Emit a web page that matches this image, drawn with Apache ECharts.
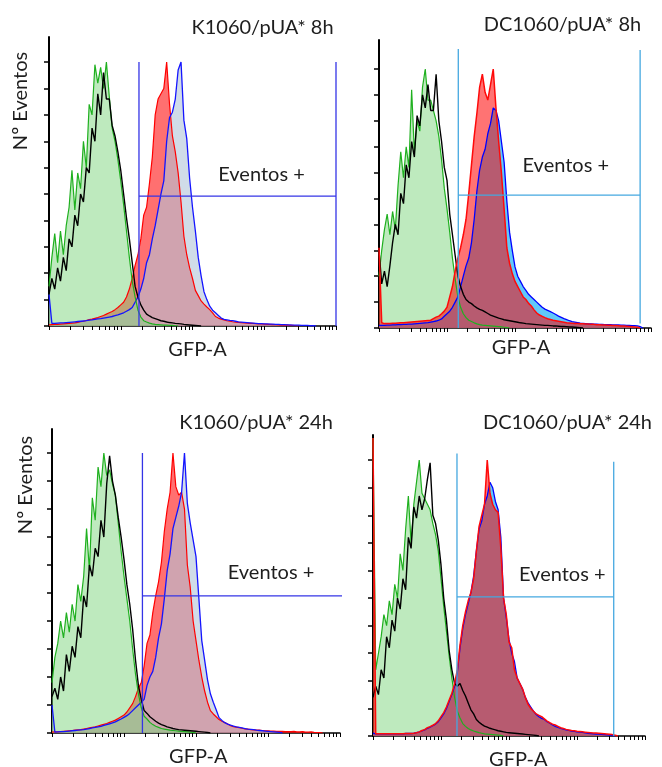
<!DOCTYPE html>
<html>
<head>
<meta charset="utf-8">
<script src="https://cdn.jsdelivr.net/npm/echarts@6/dist/echarts.min.js"></script>
<style>
  html, body { margin: 0; padding: 0; background: #fff; }
  #chart { width: 662px; height: 767px; }
</style>
</head>
<body>
<div id="chart"></div>
<script>
// GFP-A histograms: channels are spaced 0.04 decades apart on a 4-decade log axis (value = log10 position).
const BIN_STEP = 0.04;
const DECADES = 4;

// Tick marks: 1..9 per decade, plus the last decade boundary
const logTickValues = [];
for (let d = 0; d < DECADES; d++) {
  for (let k = 1; k <= 9; k++) logTickValues.push(+(d + Math.log10(k)).toFixed(4));
}
logTickValues.push(DECADES);
const countTickValues = [0, 10, 20, 30, 40, 50, 60, 70, 80, 90, 100];

// ---------- K1060/pUA* 8h (events, % of mode) ----------
const k8Green = [15,26,35,24,36,27,38,45,59,44, 58,52,70,60,84,80,99,92,98,90,
  100,87,75,70,63,55,46,36,26,17, 11,6,3.4,2,1.5,1.1,0.8,0.6,0.5,0.4, 0.3,0.3,0.2,0.2,0.1,0];
const k8Black = [12,18,14,22,17,26,21,33,30,42, 38,50,47,60,58,75,70,88,80,96,
  86,86,76,72,66,59,50,41,33,24, 15,11,8,6,4.5,3.8,3.2,2.8,2.4,2,
  1.8,1.5,1.3,1.2,1,0.9,0.8,0.6,0.5,0.4, 0.3,0.2,0.1,0];
const k8Red = [0.4,0.5,0.6,0.6,0.7,0.8,0.9,1,1.1,1.2, 1.4,1.6,1.8,2.1,2.4,2.6,2.9,3.2,3.6,4,
  4.5,5,5.5,6.2,7,8,9,11,14,18, 23,27,33,42,45,54,64,80,86,88,
  90,100,84,72,66,58,47,34,27,22, 18,13.5,11.5,9.5,8.3,7.2,6.2,5,3.6,3,
  2.6,2.3,2,1.8,1.6,1.5,1.4,1.3,1.2,1.1, 1,1,0.9,0.8,0.8,0.7,0.6,0.6,0.5,0.5,
  0.4,0.3,0.3,0.4,0.2,0.2,0.1,0];
const k8Blue = [12,1,1,1.1,1.2,1.2,1.3,1.4,1.5,1.6, 1.7,1.8,1.9,2,2.2,2.3,2.5,2.7,2.8,3,
  3.2,3.4,3.6,3.9,4.2,4.6,5,5.6,6.2,7, 9,11,14,18,24,27,33,38,44,50,
  55,70,79,81,86,97,100,78,71,56, 45,36,26,19,13,10,7.5,6,5,4,
  3,2.5,2.3,2.1,2,1.8,1.6,1.5,1.4,1.3, 1.2,1.1,1,0.9,0.9,0.8,0.8,0.7,0.7,0.6,
  0.6,0.5,0.5,0.4,0.4,0.3,0.3,0.3,0.2,0.2, 0.2,0.1,0.1,0];

// ---------- DC1060/pUA* 8h ----------
const dc8Green = [20,30,38,44,36,45,38,55,68,58, 70,62,92,68,80,76,93,100,88,88,
  84,80,74,65,54,46,37,27,19,12, 8,5.5,4,3,2.5,2,1.6,1.3,1.1,1,
  0.9,0.8,0.7,0.6,0.5,0.4,0.3,0.2,0];
const dc8Black = [30,17,22,16,24,33,40,36,52,48, 63,58,72,66,82,78,90,85,94,84,
  84,98,80,72,62,57,44,36,28,20, 16,13,11,10,9.4,8.5,7.8,7.2,6.8,6.2,
  5.6,5,4.6,4.2,3.8,3.5,3.2,3,2.8,2.6, 2.4,2.2,2,1.9,1.7,1.6,1.5,1.4,1.3,1.2,
  1.1,1,1,0.9,0.8,0.8,0.7,0.6,0.6,0.5, 0.4,0.4,0.3,0.2,0.1,0];
const dc8Red = [31,2,1.7,1.7,1.7,1.8,1.8,1.9,2,2, 2.1,2.2,2.3,2.4,2.5,2.6,2.7,2.8,2.9,3,
  3.6,4.2,4.6,5.5,6.5,8,12,16,22,27, 31,36,42,52,63,74,83,93,98,91,
  88,94,100,85,72,60,46,31,25,21, 18,16,14,12,11,9.5,8.5,7,5.8,5,
  4.5,4,3.6,3.3,3,2.8,2.6,2.4,2.2,2, 1.9,1.8,1.7,1.7,1.6,1.6,1.5,1.5,1.4,1.4,
  1.3,1.3,1.2,1.2,1.1,1.1,1,1,0.9,0.8, 0.8,0.7,0.6,0.5,0.4,0.3,0];
const dc8Blue = [1,1,1,1.1,1.1,1.2,1.2,1.3,1.3,1.4, 1.4,1.5,1.5,1.6,1.7,1.8,1.9,2,2.1,2.3,
  2.5,2.7,3,3.5,4.5,5.5,6.5,8,10,12, 16,20,24,27,33,42,53,61,66,69,
  75,79,85,84,80,72,64,49,37,30, 23.6,20,18,16,14.5,13,12,11,10,9,
  8,7.3,6.8,6.3,5.8,5.2,4.6,4.1,3.6,3.2, 2.8,2.5,2.3,2.1,1.9,1.8,1.7,1.6,1.6,1.5,
  1.5,1.4,1.4,1.3,1.3,1.3,1.2,1.2,1.2,1.1, 1.1,1,1,0.9,0.9,0.8,0.5,0];

// ---------- K1060/pUA* 24h ----------
const k24Green = [18,27,32,40,34,43,36,46,40,53, 47,56,73,58,84,76,95,88,100,92,
  94,89,85,75,65,56,48,40,30,21, 14,9,6,5,3.8,3,2.4,2,1.6,1.4,
  1.2,1,0.9,0.8,0.7,0.6,0.5,0.4,0.3,0.2, 0];
const k24Black = [13,16,12,20,15,28,22,31,27,38, 34,49,45,60,56,66,63,76,70,89,
  99,90,85,77,70,62,53,46,37,26, 17,12,8,7,5.8,5,4.2,3.5,3,2.6,
  2.2,1.9,1.6,1.4,1.2,1.1,1,0.9,0.8,0.7, 0.6,0.5,0.4,0.3,0.2,0];
const k24Red = [0.3,0.4,0.4,0.5,0.6,0.7,0.8,0.9,1,1.1, 1.2,1.4,1.6,1.8,2,2.2,2.5,2.8,3.1,3.4,
  3.8,4.2,4.6,5.2,5.8,6.4,7.5,9,10.5,13, 16,18,24,32,35,43,49,54,61,72,
  80,86,100,88,85,86,80,60,52,40, 33,26,20,15,11,8,6.8,5.8,4.8,4.2,
  3.7,3.2,2.6,2.3,2.1,1.9,1.7,1.5,1.4,1.2, 1.1,1,1,0.9,0.8,0.8,0.7,0.7,0.6,0.6,
  0.6,0.5,0.5,0.5,0.6,0.4,0.4,0.5,0.3,0.3, 0.4,0.2,0.1,0.1,0];
const k24Blue = [10,0.3,0.4,0.5,0.5,0.6,0.7,0.8,0.9,1, 1.1,1.2,1.4,1.6,1.8,2,2.2,2.4,2.7,3,
  3.3,3.6,4,4.5,5,5.6,6.2,7,8,9, 10,11,12,17,20,22,27,34,39,48,
  58,64,73,77,81,86,100,82,75,69, 63,48,33,26,19,14,11,8.3,5.5,4.5,
  3.7,3.2,2.8,2.5,2.2,2,1.8,1.6,1.4,1.3, 1.2,1,0.9,0.8,0.7,0.6,0.5,0.4,0.3,0.2, 0];

// ---------- DC1060/pUA* 24h ----------
const dc24Green = [108,24,30,36,44,40,49,44,55,50, 66,60,75,87,70,84,92,100,88,86,
  84,82,77,73,67,57,47,38,29,21, 14,9,6.5,4.5,3.5,2.7,2.2,1.8,1.5,1.2,
  1,0.8,0.7,0.6,0.5,0.4,0.3,0.2,0];
const dc24Black = [14,18,15,24,21,36,32,42,38,50, 46,57,53,72,68,83,79,87,82,86,
  93,99,80,77,71,62,50,42,31,24, 19,18,19,16.5,14.5,12,9.5,8,6,5,
  4.2,3.6,3.2,2.8,2.5,2.2,1.9,1.7,1.5,1.3, 1.2,1.1,1,0.9,0.8,0.7,0.6,0.5,0.4,0.3, 0.2,0];
const dc24Red = [108,0.8,0.8,0.8,0.8,0.8,0.8,0.8,0.8,0.8, 0.8,0.8,0.9,0.9,0.9,1,1.2,1.5,2,2.3,
  3,3.4,3.9,4.5,5.5,7,8.5,10.5,13,15.5, 19,24,33,40,45,49,52,57,67,76,
  80,84,100,88,84,82,81,68,50,44, 34,32,24,21,19,17,14,11.5,10,9,
  8,7.5,7,6.2,5.4,4.8,4.3,4,3.5,3, 2.7,2.4,2.2,2,1.9,1.7,1.6,1.5,1.4,1.3,
  1.2,1.1,1.1,1,0.9,0.8,0.7,0.6,0.5,0.3, 0];
const dc24Blue = [1,0.8,0.8,0.8,0.8,0.8,0.8,0.8,0.8,0.8, 0.8,0.8,0.9,0.9,0.9,1,1.2,1.5,1.9,2.2,
  2.8,3.2,3.7,4.3,5.2,6.6,8,10,12.5,15, 18,23,32,39,44,48,52,58,67,75,
  78,84,87,92,90,85,82,72,50,43, 35,30,27,21,19,17,14,12,10.5,9,
  7.8,7,6.4,6,5.2,4.6,4,3.5,3.1,2.8, 2.5,2.2,2,1.8,1.7,1.5,1.4,1.3,1.1,1,
  0.9,0.8,0.7,0.7,0.6,0.5,0.4,0.3,0.2,0];

// Gate "Eventos +" per panel (log position of the bounds, count level of the bar)
const gateLow   = [1.254, 1.166, 1.256, 1.235];
const gateHigh  = [4.0, 3.84, 4.05, 3.54];
const gateLevel = [49.2, 51.3, 49, 50.4];
const gateLowTop  = [100, 107.7, 100, 102.4];
const gateHighTop = [100, 107.3, 100, 99.4];
const gateHighBottom = [0, 1.7, 0, 0];

const panelTitles = ['K1060/pUA* 8h', 'DC1060/pUA* 8h', 'K1060/pUA* 24h', 'DC1060/pUA* 24h'];
const histograms = [
  { green: k8Green,   black: k8Black,   red: k8Red,   blue: k8Blue },
  { green: dc8Green,  black: dc8Black,  red: dc8Red,  blue: dc8Blue },
  { green: k24Green,  black: k24Black,  red: k24Red,  blue: k24Blue },
  { green: dc24Green, black: dc24Black, red: dc24Red, blue: dc24Blue }
];

// ---------- layout & styles ----------
const panelLayout = [
  { grid: { left: 49,  top: 37,  width: 287, height: 289 }, yMax: 109.5, scheme: 'k',  gateColor: '#3434e6' },
  { grid: { left: 379, top: 40,  width: 272, height: 288 }, yMax: 111.2, scheme: 'dc', gateColor: '#45a8e0' },
  { grid: { left: 52,  top: 429, width: 288, height: 304 }, yMax: 108.6, scheme: 'k',  gateColor: '#3434e6' },
  { grid: { left: 373, top: 435, width: 272, height: 301 }, yMax: 109.1, scheme: 'dc', gateColor: '#45a8e0' }
];

const curveStyle = {
  k: {
    order: ['red', 'blue', 'green', 'black'],
    red:   { line: '#ff0000', width: 1.2, area: 'rgba(255,0,0,0.56)' },
    blue:  { line: '#1414ff', width: 1.3, area: 'rgba(177,197,217,0.6)' },
    green: { line: '#1fb01f', width: 1.2, area: 'rgba(125,214,125,0.5)' },
    black: { line: '#000000', width: 1.4, area: null }
  },
  dc: {
    order: ['green', 'blue', 'black', 'red'],
    green: { line: '#1fb01f', width: 1.2, area: 'rgba(125,214,125,0.5)' },
    blue:  { line: '#0000ff', width: 1.3, area: 'rgba(80,195,248,0.9)' },
    black: { line: '#000000', width: 1.4, area: null },
    red:   { line: '#ff0a0a', width: 1.5, area: 'rgba(255,0,0,0.55)' }
  }
};

const FONT = '20px Lato, "Liberation Sans", sans-serif';
const TEXT_COLOR = '#1e1e1e';
const labelSpots = {
  title:   [[262.5, 28], [562.5, 25], [256, 423], [567.5, 423]],
  gate:    [[261.5, 175], [565.8, 166], [271, 572.7], [562.3, 575]],
  xName:   [[197.5, 350], [521, 348], [198.3, 757], [518.3, 760]],
  yName:   [[20.5, 101], null, [25.8, 485], null]
};

const grids = [], xAxes = [], yAxes = [], series = [], texts = [];

panelLayout.forEach((p, gi) => {
  grids.push(Object.assign({ containLabel: false }, p.grid));
  xAxes.push({
    type: 'value', gridIndex: gi, min: 0, max: DECADES,
    axisLine: { show: true, onZero: false, lineStyle: { color: '#000', width: 1.5 } },
    axisTick: { show: true, customValues: logTickValues, length: 4, inside: false,
                lineStyle: { color: '#000', width: 1 } },
    axisLabel: { show: false }, splitLine: { show: false }
  });
  yAxes.push({
    type: 'value', gridIndex: gi, min: 0, max: p.yMax,
    axisLine: { show: true, lineStyle: { color: '#000', width: 2 } },
    axisTick: { show: true, customValues: countTickValues, length: 5, inside: false,
                lineStyle: { color: '#000', width: 1.5 } },
    axisLabel: { show: false }, splitLine: { show: false }
  });

  const sty = curveStyle[p.scheme];
  sty.order.forEach(name => {
    const s = sty[name];
    const vals = histograms[gi][name];
    series.push({
      type: 'line', name: panelTitles[gi] + ' ' + name,
      xAxisIndex: gi, yAxisIndex: gi,
      data: vals.map((v, i) => [+(i * BIN_STEP).toFixed(2), v]),
      symbol: 'none', silent: true, smooth: false,
      lineStyle: { color: s.line, width: s.width },
      areaStyle: s.area ? { color: s.area, opacity: 1 } : undefined
    });
  });

  // gate: left bound, right bound, level bar
  const gateSegments = [
    [[gateLow[gi], 0], [gateLow[gi], gateLowTop[gi]]],
    [[gateHigh[gi], gateHighBottom[gi]], [gateHigh[gi], gateHighTop[gi]]],
    [[gateLow[gi], gateLevel[gi]], [gateHigh[gi], gateLevel[gi]]]
  ];
  gateSegments.forEach(seg => {
    series.push({
      type: 'line', xAxisIndex: gi, yAxisIndex: gi, data: seg,
      symbol: 'none', silent: true, clip: false,
      lineStyle: { color: p.gateColor, width: 1.3 }
    });
  });

  const addText = (pos, text, rotation) => {
    if (!pos) return;
    texts.push({
      type: 'text', x: pos[0], y: pos[1], rotation: rotation || 0, silent: true, z: 100,
      style: { text, font: FONT, fill: TEXT_COLOR, align: 'center', verticalAlign: 'middle' }
    });
  };
  addText(labelSpots.title[gi], panelTitles[gi]);
  addText(labelSpots.gate[gi], 'Eventos +');
  addText(labelSpots.xName[gi], 'GFP-A');
  addText(labelSpots.yName[gi], 'Nº Eventos', Math.PI / 2);
});

const chart = echarts.init(document.getElementById('chart'), null, { renderer: 'canvas' });
chart.setOption({
  animation: false,
  backgroundColor: '#ffffff',
  grid: grids,
  xAxis: xAxes,
  yAxis: yAxes,
  series: series,
  graphic: { elements: texts }
});
</script>
</body>
</html>
